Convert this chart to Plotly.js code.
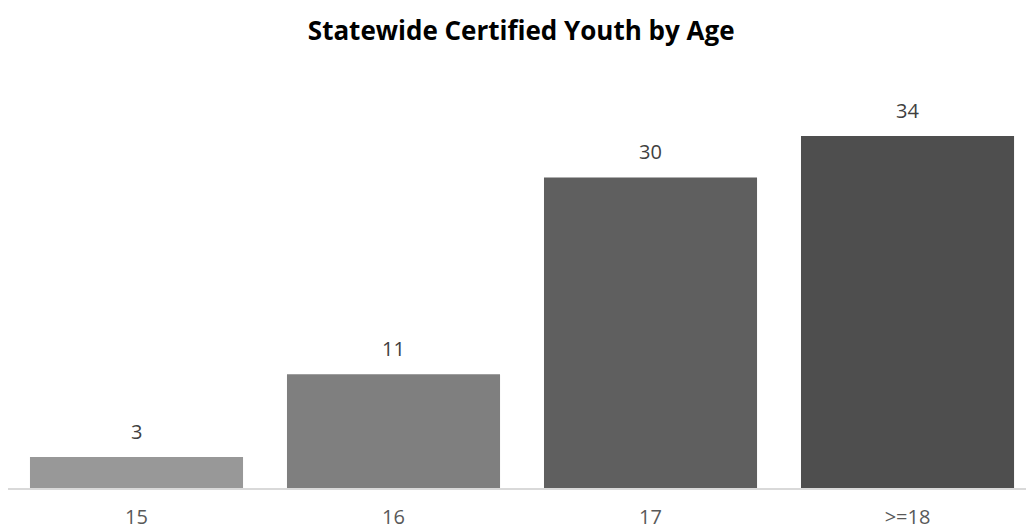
<!DOCTYPE html>
<html>
<head>
<meta charset="utf-8">
<script src="https://cdn.plot.ly/plotly-3.0.1.min.js"></script>
<style>html,body{margin:0;padding:0;background:#fff;}#chart{width:1026px;height:529px;}</style>
</head>
<body>
<div id="chart"></div>
<script>
const categories = ["15", "16", "17", ">=18"];
const values = [3, 11, 30, 34];
const barColors = ["#989898", "#7f7f7f", "#5f5f5f", "#4e4e4e"];

const trace = {
  type: "bar",
  x: categories,
  y: values,
  marker: {color: barColors},
  hoverinfo: "none"
};

const annotations = categories.map((c, i) => ({
  x: i, y: values[i], xref: "x", yref: "y",
  text: String(values[i]), showarrow: false,
  yanchor: "bottom", yshift: 10,
  font: {family: "'Open Sans', sans-serif", size: 20, color: "#404040"}
}));

const layout = {
  width: 1026, height: 529,
  margin: {l: 8, r: 0, t: 100, b: 41},
  paper_bgcolor: "#ffffff", plot_bgcolor: "#ffffff",
  title: {text: "<b>Statewide Certified Youth by Age</b>", x: 0.508, xanchor: "center",
          yref: "container", y: 0.942, yanchor: "middle",
          font: {family: "'Open Sans', sans-serif", size: 26, color: "#000000"}},
  bargap: 0.171,
  showlegend: false,
  xaxis: {
    type: "category", range: [-0.5, 3.461],
    showline: true, linecolor: "#d9d9d9", linewidth: 1.5,
    showgrid: false, zeroline: false, ticks: "",
    tickfont: {family: "'Open Sans', sans-serif", size: 20, color: "#595959"},
    ticklabelstandoff: 10
  },
  yaxis: {
    range: [0, 37.48], visible: false, showgrid: false, zeroline: false
  },
  annotations: annotations
};

Plotly.newPlot("chart", [trace], layout, {staticPlot: true, displayModeBar: false});
</script>
</body>
</html>
